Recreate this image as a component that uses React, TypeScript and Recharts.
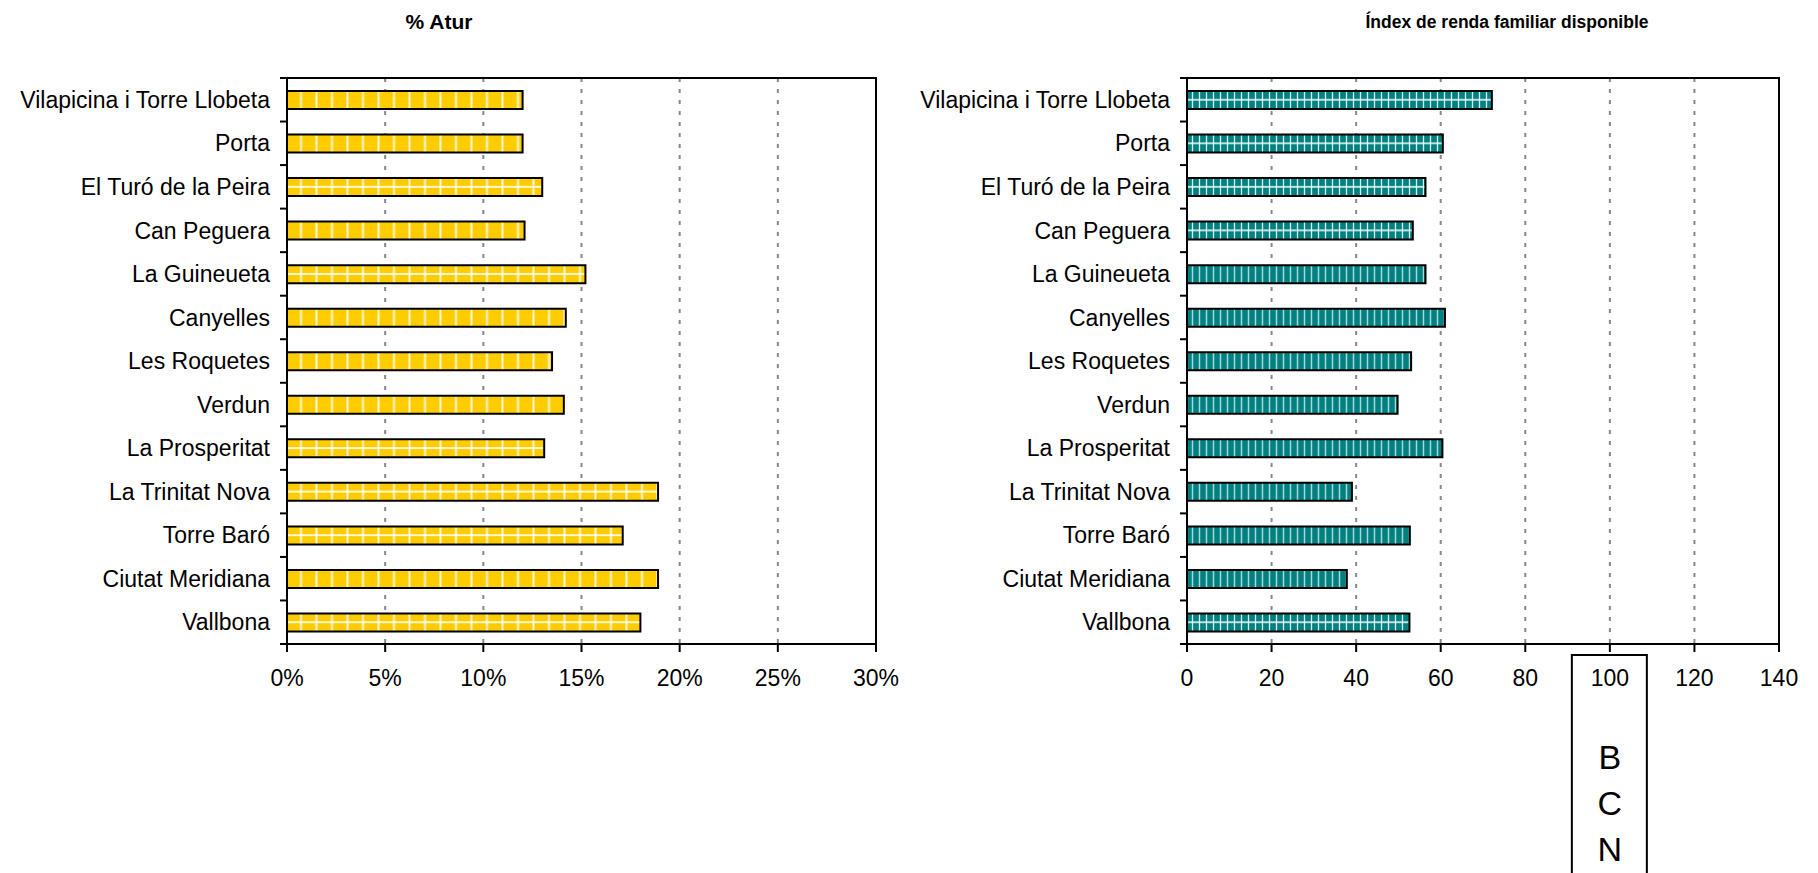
import React from 'react';
import { BarChart, Bar, XAxis, YAxis, CartesianGrid, ReferenceArea, Cell } from 'recharts';

const neighbourhoods = [
  'Vilapicina i Torre Llobeta',
  'Porta',
  'El Turó de la Peira',
  'Can Peguera',
  'La Guineueta',
  'Canyelles',
  'Les Roquetes',
  'Verdun',
  'La Prosperitat',
  'La Trinitat Nova',
  'Torre Baró',
  'Ciutat Meridiana',
  'Vallbona',
];
const atur = [12.0, 12.0, 13.0, 12.1, 15.2, 14.2, 13.5, 14.1, 13.1, 18.9, 17.1, 18.9, 18.0];
const renda = [72.1, 60.5, 56.4, 53.4, 56.4, 61.0, 53.0, 49.8, 60.4, 39.0, 52.7, 37.8, 52.6];
const aturPattern = ['v', 'v', 'grid', 'v', 'grid', 'v', 'v', 'v', 'grid', 'grid', 'grid', 'v', 'grid'];
const rendaPattern = ['grid', 'grid', 'grid', 'grid', 'v', 'v', 'v', 'v', 'v', 'v', 'v', 'v', 'grid'];
const aturTicks = [0, 5, 10, 15, 20, 25, 30];
const rendaTicks = [0, 20, 40, 60, 80, 100, 120, 140];
const bcnLetters = ['B', 'C', 'N'];

const W = 900;
const H = 873;
const TOP = 78;
const BOTTOM = 644;
const BAND = (BOTTOM - TOP) / neighbourhoods.length;
const FONT = '"Liberation Sans", Arial, sans-serif';

const aturData = neighbourhoods.map((name, i) => ({ name, value: atur[i], pattern: aturPattern[i] }));
const rendaData = neighbourhoods.map((name, i) => ({ name, value: renda[i], pattern: rendaPattern[i] }));

function RowTick(props: any) {
  const { x, y, payload, index } = props;
  const half = BAND / 2;
  return (
    <g>
      <text x={x - 17} y={y} dy="0.355em" textAnchor="end" fontSize={23} fill="#000">
        {payload.value}
      </text>
      <line x1={x - 7} x2={x} y1={y - half} y2={y - half} stroke="#000" strokeWidth={2} />
      {index === neighbourhoods.length - 1 && (
        <line x1={x - 7} x2={x} y1={y + half} y2={y + half} stroke="#000" strokeWidth={2} />
      )}
    </g>
  );
}

function RendaTick(props: any) {
  const { x, y, payload } = props;
  return (
    <g>
      <text x={x} y={y} dy="0.71em" textAnchor="middle" fontSize={23} fill="#000">
        {payload.value}
      </text>
      {payload.value === 100 && (
        <g>
          <rect x={x - 38} y={y - 15} width={75} height={240} fill="none" stroke="#000" strokeWidth={2} />
          {bcnLetters.map((l, i) => (
            <text key={l} x={x} y={y + 87 + i * 46} dy="0.355em" textAnchor="middle" fontSize={34} fill="#000">
              {l}
            </text>
          ))}
        </g>
      )}
    </g>
  );
}

function Title({ text, cx, cy, size }: { text: string; cx: number; cy: number; size: number }) {
  return (
    <div
      style={{
        position: 'absolute',
        left: cx,
        top: cy - size / 2,
        transform: 'translateX(-50%)',
        fontSize: size,
        lineHeight: `${size}px`,
        fontWeight: 'bold',
        whiteSpace: 'nowrap',
      }}
    >
      {text}
    </div>
  );
}

export default function App() {
  return (
    <div style={{ position: 'absolute', left: 0, top: 0, width: 1818, height: H, background: '#fff', fontFamily: FONT }}>
      <Title text="% Atur" cx={439} cy={21} size={21} />
      <Title text="Índex de renda familiar disponible" cx={1507} cy={23} size={17.5} />

      <div style={{ position: 'absolute', left: 0, top: 0 }}>
        <BarChart width={W} height={H} data={aturData} layout="vertical" margin={{ top: TOP, right: 24, bottom: H - BOTTOM - 60, left: 17 }}>
          <defs>
            <pattern id="atur-v" patternUnits="userSpaceOnUse" x={287} y={TOP} width={15.5} height={BAND}>
              <rect width={15.5} height={BAND} fill="#FFCC00" />
              <line x1={14} x2={14} y1={0} y2={BAND} stroke="#fff" strokeOpacity={0.85} strokeWidth={2} />
            </pattern>
            <pattern id="atur-grid" patternUnits="userSpaceOnUse" x={287} y={TOP} width={15.5} height={BAND}>
              <rect width={15.5} height={BAND} fill="#FFCC00" />
              <line x1={14} x2={14} y1={0} y2={BAND} stroke="#fff" strokeOpacity={0.85} strokeWidth={2} />
              <line x1={0} x2={15.5} y1={BAND / 2} y2={BAND / 2} stroke="#fff" strokeOpacity={0.85} strokeWidth={2} />
            </pattern>
          </defs>
          <CartesianGrid horizontal={false} stroke="#888" strokeDasharray="4 7" strokeWidth={2} />
          <XAxis
            type="number"
            domain={[0, 30]}
            ticks={aturTicks}
            interval={0}
            height={60}
            tickFormatter={(v) => `${v}%`}
            tick={{ fill: '#000', fontSize: 23 }}
            tickSize={8}
            tickMargin={18}
            axisLine={{ stroke: '#000', strokeWidth: 2 }}
            tickLine={{ stroke: '#000', strokeWidth: 2 }}
          />
          <YAxis
            type="category"
            dataKey="name"
            width={270}
            interval={0}
            tickSize={0}
            tickMargin={0}
            tickLine={false}
            tick={<RowTick />}
            axisLine={{ stroke: '#000', strokeWidth: 2 }}
          />
          <Bar dataKey="value" barSize={18} stroke="#000" strokeWidth={2} isAnimationActive={false}>
            {aturData.map((d, i) => (
              <Cell key={i} fill={`url(#atur-${d.pattern})`} />
            ))}
          </Bar>
          <ReferenceArea x1={0} x2={30} fill="none" stroke="#000" strokeWidth={2} ifOverflow="visible" />
        </BarChart>
      </div>

      <div style={{ position: 'absolute', left: 900, top: 0 }}>
        <BarChart width={W} height={H} data={rendaData} layout="vertical" margin={{ top: TOP, right: 21, bottom: H - BOTTOM - 60, left: 17 }}>
          <defs>
            <pattern id="renda-v" patternUnits="userSpaceOnUse" x={287} y={TOP} width={7} height={BAND}>
              <rect width={7} height={BAND} fill="#008080" />
              <line x1={5.5} x2={5.5} y1={0} y2={BAND} stroke="#A8D8D8" strokeWidth={1.5} />
            </pattern>
            <pattern id="renda-grid" patternUnits="userSpaceOnUse" x={287} y={TOP} width={7} height={BAND}>
              <rect width={7} height={BAND} fill="#008080" />
              <line x1={5.5} x2={5.5} y1={0} y2={BAND} stroke="#D8F0F0" strokeWidth={1.3} />
              <line x1={0} x2={7} y1={BAND / 2} y2={BAND / 2} stroke="#fff" strokeWidth={1.5} />
            </pattern>
          </defs>
          <CartesianGrid horizontal={false} stroke="#888" strokeDasharray="4 7" strokeWidth={2} />
          <XAxis
            type="number"
            domain={[0, 140]}
            ticks={rendaTicks}
            interval={0}
            height={60}
            tick={<RendaTick />}
            tickSize={8}
            tickMargin={18}
            axisLine={{ stroke: '#000', strokeWidth: 2 }}
            tickLine={{ stroke: '#000', strokeWidth: 2 }}
          />
          <YAxis
            type="category"
            dataKey="name"
            width={270}
            interval={0}
            tickSize={0}
            tickMargin={0}
            tickLine={false}
            tick={<RowTick />}
            axisLine={{ stroke: '#000', strokeWidth: 2 }}
          />
          <Bar dataKey="value" barSize={18} stroke="#000" strokeWidth={2} isAnimationActive={false}>
            {rendaData.map((d, i) => (
              <Cell key={i} fill={`url(#renda-${d.pattern})`} />
            ))}
          </Bar>
          <ReferenceArea x1={0} x2={140} fill="none" stroke="#000" strokeWidth={2} ifOverflow="visible" />
        </BarChart>
      </div>
    </div>
  );
}
